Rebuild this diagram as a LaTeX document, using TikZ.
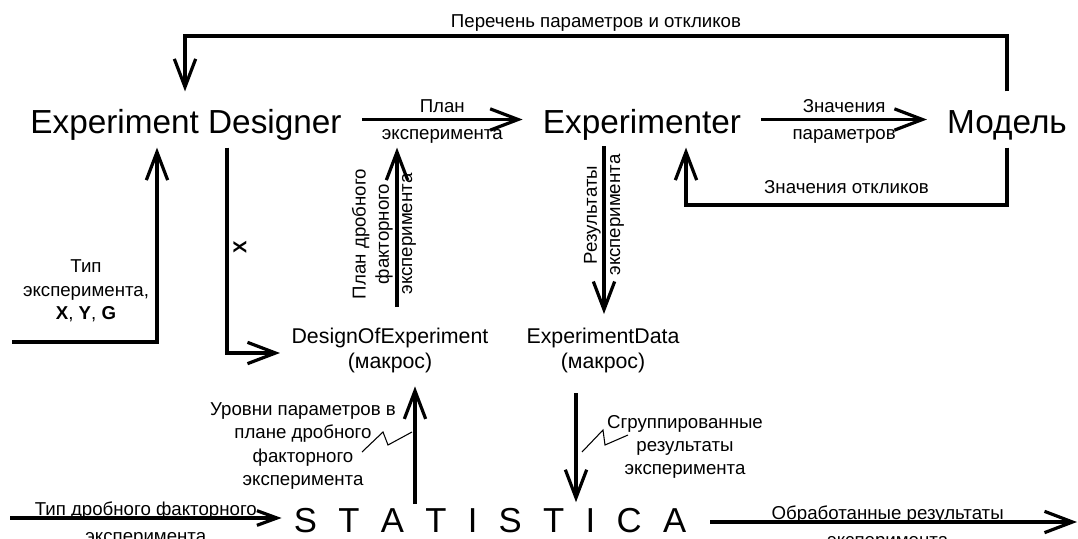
\documentclass[tikz,border=0pt]{standalone}
\usepackage{fontspec}
\setmainfont{Liberation Sans}
\usetikzlibrary{positioning, arrows.meta}
\tikzset{
    x=0.75pt, y=-0.75pt, % one unit is one pixel of the sketch, y runs down
    every picture/.style={line width=2.4pt}, % thick connectors
    >={Straight Barb[length=21pt,width=16pt]}, % open arrow heads
    small tip/.style={-{Straight Barb[length=15pt,width=11pt]}}, % smaller head for the input arrow
    big/.style={font=\fontsize{25}{30}\selectfont, inner xsep=14pt, inner ysep=0pt, text height=30pt, text depth=9.75pt}, % main programs
    macro/.style={font=\fontsize{16}{19}\selectfont, align=center, inner xsep=7.5pt, inner ysep=9pt}, % macros
    lbl/.style={font=\fontsize{14}{17.5}\selectfont, align=center, inner sep=2pt}, % labels on the arrows
    callout/.style={line width=0.8pt}, % zigzag from a label to its arrow
}
\begin{document}
\begin{tikzpicture}
\useasboundingbox (0,0) rectangle (1078,539);
\node[big, anchor=base] (ed) at (186,133) {Experiment Designer};
\node[big, anchor=base] (exp) at (642,133) {Experimenter};
\node[big, anchor=base] (model) at (1007,133) {Модель};
\node[macro, anchor=north] (doe) at (390,314) {DesignOfExperiment\\(макрос)};
\node[macro, anchor=north] (data) at (603,314) {ExperimentData\\(макрос)};
\node[anchor=base, font=\fontsize{26}{30}\selectfont, inner xsep=8pt, inner ysep=3pt] (stat) at (490,532) {\spaceskip=16pt\relax S T A T I S T I C A};
% corners and free ends
\coordinate (fb) at (185,36);
\coordinate (resp) at (686,205);
\coordinate (inA) at (12,342);
\coordinate (cA) at (157,342);
\coordinate (cX) at (227,353);
\coordinate (pd) at (397,307);
\coordinate (res) at (604,146);
\coordinate (lv) at (415,504);
\coordinate (gr) at (576,391);
\coordinate (inB) at (10,518);
\coordinate (outB) at (1077,522);
% top row
\draw[->] (model.north) |- node[lbl, pos=0.75, above=0pt] (perech) {Перечень параметров и откликов} (fb) -- (ed.north -| fb);
\draw[->] (ed.east) -- node[lbl, above=2pt] (plan1) {План} node[lbl, below=4pt] (plan2) {эксперимента} (exp.west);
\draw[->] (exp.east) -- node[lbl, above=2pt] (val1) {Значения} node[lbl, below=4pt] (val2) {параметров} (model.west);
\draw[->] (model.south) |- node[lbl, pos=0.75, above=5pt] (otkl) {Значения откликов} (resp) -- (exp.south -| resp);
% into Experiment Designer
\draw[->] (inA) -- (cA) -- (ed.south -| cA);
\node[lbl] (tipexp) at (86,291) {Тип\\эксперимента,\\\textbf{X}, \textbf{Y}, \textbf{G}};
\draw[->] (ed.south -| cX) -- (cX) -- (doe.west |- cX);
\node[lbl, rotate=90, font=\fontsize{14}{17.5}\selectfont\bfseries] (xlab) at (240,247) {X};
% macros
\draw[->] (pd) -- (pd |- ed.south);
\node[lbl, rotate=90] (pdlab) at (384,234) {План дробного\\факторного\\эксперимента};
\draw[->] (res) -- (res |- data.north);
\node[lbl, rotate=90] (reslab) at (604,215) {Результаты\\эксперимента};
\draw[->] (lv) -- (lv |- doe.south);
\node[lbl] (lvlab) at (303,446) {Уровни параметров в\\плане дробного\\факторного\\эксперимента};
\draw[callout] (362,452) -- (383,432) -- (388,445) -- (412,432);
\draw[->, shorten <=5pt] (data.south -| gr) -- (gr |- stat.north);
\node[lbl] (grlab) at (685,447) {Сгруппированные\\результаты\\эксперимента};
\draw[callout] (582,452) -- (603,430) -- (605,445) -- (628,435);
% STATISTICA
\draw[small tip] (inB) -- node[lbl, anchor=base, inner sep=0pt, yshift=2pt] (tipdr1) {Тип дробного факторного} node[lbl, below=8pt] (tipdr2) {эксперимента} (stat.west |- inB);
\draw[->, shorten <=9pt] (stat.east |- outB) -- node[lbl, anchor=base, inner sep=0pt, yshift=2pt] (obr1) {Обработанные результаты} node[lbl, below=8pt] (obr2) {эксперимента} (outB);
\end{tikzpicture}
\end{document}
